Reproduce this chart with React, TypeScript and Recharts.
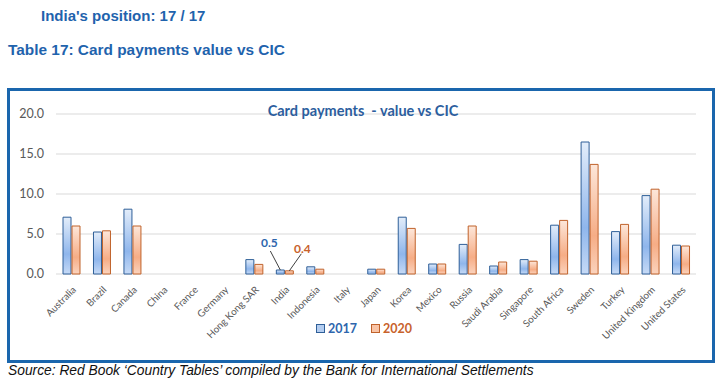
import { Bar, BarChart, CartesianGrid, LabelList, XAxis, YAxis } from "recharts";

const countries = [
  "Australia", "Brazil", "Canada", "China", "France", "Germany", "Hong Kong SAR",
  "India", "Indonesia", "Italy", "Japan", "Korea", "Mexico", "Russia",
  "Saudi Arabia", "Singapore", "South Africa", "Sweden", "Turkey",
  "United Kingdom", "United States",
];
const values2017 = [
  7.1, 5.25, 8.1, null, null, null, 1.8, 0.5, 0.9, null, 0.6, 7.1, 1.25, 3.7,
  1.0, 1.8, 6.1, 16.5, 5.3, 9.8, 3.6,
];
const values2020 = [
  6.0, 5.4, 6.0, null, null, null, 1.2, 0.4, 0.6, null, 0.6, 5.7, 1.25, 6.0,
  1.5, 1.6, 6.7, 13.7, 6.2, 10.6, 3.5,
];
const yTicks = [0, 5, 10, 15, 20];
const labelledCountry = "India";

const chartData = countries.map((country, i) => ({
  country,
  y2017: values2017[i],
  y2020: values2020[i],
  // only India carries a data label
  lab2017: country === labelledCountry ? values2017[i] : undefined,
  lab2020: country === labelledCountry ? values2020[i] : undefined,
}));

const BLUE_LINE = "#2f5f98";
const ORANGE_LINE = "#c0622b";
const BLUE_TEXT = "#2e66ad";
const ORANGE_TEXT = "#c8622c";
const AXIS_TEXT = "#595959";
const FONT = "Lato, 'Open Sans', sans-serif";
const ARIAL = "'Liberation Sans', Arial, sans-serif";

function CountryTick({ x, y, payload }: any) {
  return (
    <text
      transform={`translate(${x + 3},${y + 6}) rotate(-45)`}
      textAnchor="end"
      dy="0.35em"
      fontSize={9.8}
      fontFamily={FONT}
      fill={AXIS_TEXT}
    >
      {payload.value}
    </text>
  );
}

function Label2017({ x, y, width, value }: any) {
  if (value == null) return null;
  const cx = x + width / 2;
  return (
    <g>
      <line x1={cx - 10} y1={y - 19} x2={cx} y2={y} stroke="#404040" strokeWidth={1} />
      <text x={cx - 11} y={y - 27} textAnchor="middle" dy="0.35em" fontSize={12}
        fontWeight={700} fontFamily={FONT} fill={BLUE_TEXT}>
        {Number(value).toFixed(1)}
      </text>
    </g>
  );
}

function Label2020({ x, y, width, value }: any) {
  if (value == null) return null;
  const cx = x + width / 2;
  return (
    <g>
      <line x1={cx + 12} y1={y - 17} x2={cx} y2={y} stroke="#404040" strokeWidth={1} />
      <text x={cx + 13} y={y - 22} textAnchor="middle" dy="0.35em" fontSize={12}
        fontWeight={700} fontFamily={FONT} fill={ORANGE_TEXT}>
        {Number(value).toFixed(1)}
      </text>
    </g>
  );
}

function LegendBox() {
  const items = [
    { label: "2017", fill: "#b4cdf0", stroke: BLUE_LINE, color: BLUE_TEXT },
    { label: "2020", fill: "#f9c4a6", stroke: ORANGE_LINE, color: ORANGE_TEXT },
  ];
  return (
    <div style={{
      position: "absolute", left: 8, top: 321, width: 712, display: "flex",
      justifyContent: "center", gap: 14, fontFamily: FONT,
    }}>
      {items.map((it) => (
        <div key={it.label} style={{ display: "flex", alignItems: "center", gap: 3 }}>
          <span style={{
            display: "inline-block", width: 7, height: 7, background: it.fill,
            border: `1px solid ${it.stroke}`,
          }} />
          <span style={{ color: it.color, fontWeight: 700, fontSize: 12.5 }}>{it.label}</span>
        </div>
      ))}
    </div>
  );
}

export default function App() {
  return (
    <div style={{ position: "absolute", left: 0, top: 0, width: 724, height: 384, background: "#fff" }}>
      <div style={{
        position: "absolute", left: 41, top: 7, fontFamily: ARIAL,
        fontWeight: 700, fontSize: 15, color: "#1f63ad",
      }}>
        India's position: 17 / 17
      </div>
      <div style={{
        position: "absolute", left: 8, top: 41, fontFamily: ARIAL,
        fontWeight: 700, fontSize: 15.4, color: "#1f63ad",
      }}>
        Table 17: Card payments value vs CIC
      </div>
      <div style={{
        position: "absolute", left: 7, top: 88, width: 708, height: 275, boxSizing: "border-box",
        border: "3px solid #1a66ad",
      }} />
      <div style={{ position: "absolute", left: 8, top: 89 }}>
        <BarChart
          width={706}
          height={273}
          data={chartData}
          margin={{ top: 25, right: 18, left: 0, bottom: 28 }}
          barSize={8}
          barGap={1}
        >
          <defs>
            <linearGradient id="fill2017" x1="0" x2="0" y1="0" y2="1">
              <stop offset="0%" stopColor="#e3edfa" />
              <stop offset="65%" stopColor="#8fb6ec" />
              <stop offset="100%" stopColor="#c6daf6" />
            </linearGradient>
            <linearGradient id="fill2020" x1="0" x2="0" y1="0" y2="1">
              <stop offset="0%" stopColor="#fde7da" />
              <stop offset="65%" stopColor="#f6ad86" />
              <stop offset="100%" stopColor="#fbd3bd" />
            </linearGradient>
          </defs>
          <CartesianGrid vertical={false} stroke="#d9d9d9" />
          <XAxis
            dataKey="country"
            interval={0}
            height={60}
            axisLine={false}
            tickLine={false}
            tick={<CountryTick />}
          />
          <YAxis
            width={48}
            domain={[0, 20]}
            ticks={yTicks}
            axisLine={false}
            tickLine={false}
            tickMargin={6}
            tickFormatter={(v: number) => v.toFixed(1)}
            tick={{ fill: AXIS_TEXT, fontSize: 12.5, fontFamily: FONT }}
          />
          <Bar dataKey="y2017" name="2017" fill="url(#fill2017)" stroke={BLUE_LINE}
            strokeWidth={1} isAnimationActive={false}>
            <LabelList dataKey="lab2017" content={<Label2017 />} />
          </Bar>
          <Bar dataKey="y2020" name="2020" fill="url(#fill2020)" stroke={ORANGE_LINE}
            strokeWidth={1} isAnimationActive={false}>
            <LabelList dataKey="lab2020" content={<Label2020 />} />
          </Bar>
        </BarChart>
      </div>
      <LegendBox />
      <div style={{
        position: "absolute", left: 363, top: 102, transform: "translateX(-50%)", whiteSpace: "nowrap",
        fontFamily: FONT, fontWeight: 700, fontSize: 14.5, color: "#2c5e9e",
      }}>
        Card payments&nbsp; - value vs CIC
      </div>
      <div style={{
        position: "absolute", left: 8, top: 363, fontFamily: ARIAL,
        fontStyle: "italic", fontSize: 13.8, color: "#111",
      }}>
        Source: Red Book ‘Country Tables’ compiled by the Bank for International Settlements
      </div>
    </div>
  );
}
